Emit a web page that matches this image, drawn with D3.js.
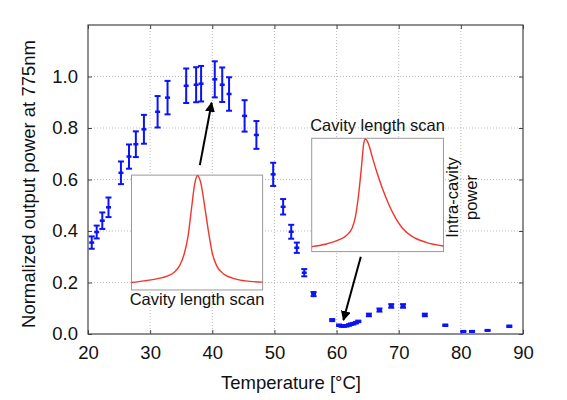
<!DOCTYPE html>
<html lang="en">
<head>
  <meta charset="UTF-8">
  <title>Output power vs temperature</title>
  <script src="https://d3js.org/d3.v7.min.js"></script>
  <style>
    body { margin: 0; background: #fff; }
    text { font-family: "Liberation Sans", Arial, sans-serif; fill: #111; }
  </style>
</head>
<body>
  <script>
    // measured points: temperature [°C], normalized power, error
    var temps = [20.6, 21.4, 22.3, 23.3, 25.3, 26.6, 27.7, 29.0, 31.2, 32.8, 35.8, 37.4, 38.2, 40.4,
                 41.6, 42.7, 45.2, 47.1, 49.8, 51.4, 52.7, 53.6, 54.8, 56.3, 59.3, 60.4, 60.8, 61.2,
                 61.6, 62.0, 62.3, 62.7, 63.1, 63.5, 65.2, 66.9, 68.8, 70.7, 74.2, 77.5, 80.4, 81.8,
                 84.3, 87.8];
    var power = [0.355, 0.396, 0.44, 0.492, 0.626, 0.689, 0.737, 0.795, 0.863, 0.918, 0.964, 0.968,
                 0.972, 0.989, 0.968, 0.932, 0.847, 0.773, 0.62, 0.494, 0.397, 0.335, 0.238, 0.155,
                 0.054, 0.034, 0.031, 0.031, 0.032, 0.035, 0.038, 0.04, 0.044, 0.049, 0.074, 0.093,
                 0.109, 0.109, 0.074, 0.034, 0.01, 0.01, 0.014, 0.03];
    var errs  = [0.024, 0.025, 0.032, 0.038, 0.044, 0.047, 0.05, 0.056, 0.061, 0.065, 0.067, 0.068,
                 0.069, 0.07, 0.067, 0.065, 0.061, 0.054, 0.045, 0.03, 0.027, 0.02, 0.014, 0.008,
                 0.004, 0.003, 0.003, 0.003, 0.003, 0.003, 0.003, 0.003, 0.003, 0.003, 0.005, 0.006,
                 0.007, 0.007, 0.005, 0.003, 0.002, 0.002, 0.002, 0.003];

    var xTicks = [20, 30, 40, 50, 60, 70, 80, 90];
    var yTicks = [0, 0.2, 0.4, 0.6, 0.8, 1.0];

    // inset traces (cavity length scan), position 0..1 vs relative intensity
    var scanLeftX  = [0, 0.097, 0.2, 0.277, 0.328, 0.367, 0.405, 0.431, 0.456, 0.482, 0.503, 0.528,
                      0.559, 0.585, 0.615, 0.649, 0.7, 0.764, 0.867, 1.0];
    var scanLeftY  = [0.065, 0.079, 0.099, 0.122, 0.156, 0.212, 0.326, 0.467, 0.694, 0.921, 0.997,
                      0.935, 0.722, 0.524, 0.326, 0.212, 0.142, 0.105, 0.079, 0.068];
    var scanRightX = [0, 0.102, 0.204, 0.268, 0.306, 0.332, 0.357, 0.378, 0.395, 0.408, 0.434, 0.459,
                      0.497, 0.536, 0.587, 0.638, 0.689, 0.765, 0.867, 1.0];
    var scanRightY = [0.044, 0.065, 0.103, 0.147, 0.206, 0.309, 0.515, 0.75, 0.956, 0.994, 0.941,
                      0.838, 0.691, 0.559, 0.412, 0.294, 0.206, 0.132, 0.082, 0.05];

    var width = 567, height = 400;
    var margin = { top: 25, right: 44, bottom: 66, left: 88 };
    var w = width - margin.left - margin.right;
    var h = height - margin.top - margin.bottom;

    var svg = d3.select("body").append("svg")
      .attr("width", width)
      .attr("height", height);

    var g = svg.append("g").attr("transform", "translate(" + margin.left + "," + margin.top + ")");

    var x = d3.scaleLinear().domain([20, 90]).range([0, w]);
    var y = d3.scaleLinear().domain([0, 1.2]).range([h, 0]);

    // grid
    g.selectAll(".gx").data(xTicks.slice(1, -1)).enter().append("line")
      .attr("x1", d => x(d)).attr("x2", d => x(d))
      .attr("y1", 0).attr("y2", h)
      .attr("stroke", "#bbb").attr("stroke-dasharray", "1,2");
    g.selectAll(".gy").data(yTicks.slice(1)).enter().append("line")
      .attr("y1", d => y(d)).attr("y2", d => y(d))
      .attr("x1", 0).attr("x2", w)
      .attr("stroke", "#bbb").attr("stroke-dasharray", "1,2");

    // axes
    g.append("g").attr("transform", "translate(0," + h + ")")
      .call(d3.axisBottom(x).tickValues(xTicks).tickSize(-4).tickPadding(12).tickFormat(d3.format("d")));
    g.append("g")
      .call(d3.axisLeft(y).tickValues(yTicks).tickSize(-4).tickPadding(10).tickFormat(d3.format(".1f")));
    g.append("g")
      .call(d3.axisTop(x).tickValues(xTicks).tickSize(-4).tickFormat(""));
    g.append("g").attr("transform", "translate(" + w + ",0)")
      .call(d3.axisRight(y).tickValues(yTicks).tickSize(-4).tickFormat(""));

    g.selectAll(".domain").remove();
    g.selectAll(".tick line").attr("stroke", "#444");
    g.selectAll(".tick text").style("font-size", "18.5px").attr("fill", "#111");

    g.append("rect")
      .attr("width", w).attr("height", h)
      .attr("fill", "none").attr("stroke", "#444").attr("stroke-width", 1.2);

    // axis titles
    svg.append("text")
      .attr("x", 291).attr("y", 389)
      .attr("text-anchor", "middle")
      .style("font-size", "18.5px")
      .text("Temperature [°C]");
    svg.append("text")
      .attr("transform", "translate(35,184) rotate(-90)")
      .attr("text-anchor", "middle")
      .style("font-size", "18.5px")
      .text("Normalized output power at 775nm");

    // error bars
    var pts = temps.map((t, i) => ({ t: t, p: power[i], e: errs[i] }));
    var bars = g.selectAll(".pt").data(pts).enter().append("g");
    var blue = "#0a14f5";
    bars.append("line")
      .attr("x1", d => x(d.t)).attr("x2", d => x(d.t))
      .attr("y1", d => y(d.p - d.e)).attr("y2", d => y(d.p + d.e))
      .attr("stroke", blue).attr("stroke-width", 2);
    [-1, 1].forEach(function(s) {
      bars.append("line")
        .attr("x1", d => x(d.t) - 3).attr("x2", d => x(d.t) + 3)
        .attr("y1", d => y(d.p + s * d.e)).attr("y2", d => y(d.p + s * d.e))
        .attr("stroke", blue).attr("stroke-width", 2);
    });
    bars.append("line")
      .attr("x1", d => x(d.t) - 2.5).attr("x2", d => x(d.t) + 2.5)
      .attr("y1", d => y(d.p)).attr("y2", d => y(d.p))
      .attr("stroke", blue).attr("stroke-width", 2.5);

    // insets
    function inset(box, xs, ys) {
      var ix = d3.scaleLinear().domain([0, 1]).range([x(box.x0), x(box.x1)]);
      var iy = d3.scaleLinear().domain([0, 1]).range([y(box.y0), y(box.y1)]);
      g.append("rect")
        .attr("x", x(box.x0)).attr("y", y(box.y1))
        .attr("width", x(box.x1) - x(box.x0)).attr("height", y(box.y0) - y(box.y1))
        .attr("fill", "#fff").attr("stroke", "#999").attr("stroke-width", 1);
      var line = d3.line().x(d => ix(d[0])).y(d => iy(d[1])).curve(d3.curveMonotoneX);
      g.append("path")
        .datum(xs.map((v, i) => [v, ys[i]]))
        .attr("d", line)
        .attr("fill", "none").attr("stroke", "#f2352a").attr("stroke-width", 1.4);
    }
    inset({ x0: 27.0, x1: 48.1, y0: 0.171, y1: 0.617 }, scanLeftX, scanLeftY);
    inset({ x0: 56.0, x1: 77.2, y0: 0.320, y1: 0.760 }, scanRightX, scanRightY);

    g.append("text")
      .attr("x", x(37.55)).attr("y", y(0.113))
      .attr("text-anchor", "middle").style("font-size", "16.5px")
      .text("Cavity length scan");
    g.append("text")
      .attr("x", x(66.6)).attr("y", y(0.79))
      .attr("text-anchor", "middle").style("font-size", "16.5px")
      .text("Cavity length scan");
    g.append("text")
      .attr("transform", "translate(" + x(79.6) + "," + y(0.53) + ") rotate(-90)")
      .attr("text-anchor", "middle").style("font-size", "16.5px")
      .text("Intra-cavity");
    g.append("text")
      .attr("transform", "translate(" + x(82.6) + "," + y(0.53) + ") rotate(-90)")
      .attr("text-anchor", "middle").style("font-size", "16.5px")
      .text("power");

    // arrows
    svg.append("defs").append("marker")
      .attr("id", "head")
      .attr("viewBox", "0 0 10 10")
      .attr("refX", 9).attr("refY", 5)
      .attr("markerWidth", 5).attr("markerHeight", 5)
      .attr("markerUnits", "strokeWidth")
      .attr("orient", "auto")
      .append("path").attr("d", "M0,0 L10,5 L0,10 z").attr("fill", "#000");

    var arrows = [
      { t0: 38.0, p0: 0.656, t1: 39.9, p1: 0.898 },
      { t0: 63.9, p0: 0.300, t1: 61.1, p1: 0.054 }
    ];
    g.selectAll(".arrow").data(arrows).enter().append("line")
      .attr("x1", d => x(d.t0)).attr("y1", d => y(d.p0))
      .attr("x2", d => x(d.t1)).attr("y2", d => y(d.p1))
      .attr("stroke", "#000").attr("stroke-width", 2)
      .attr("marker-end", "url(#head)");
  </script>
</body>
</html>
